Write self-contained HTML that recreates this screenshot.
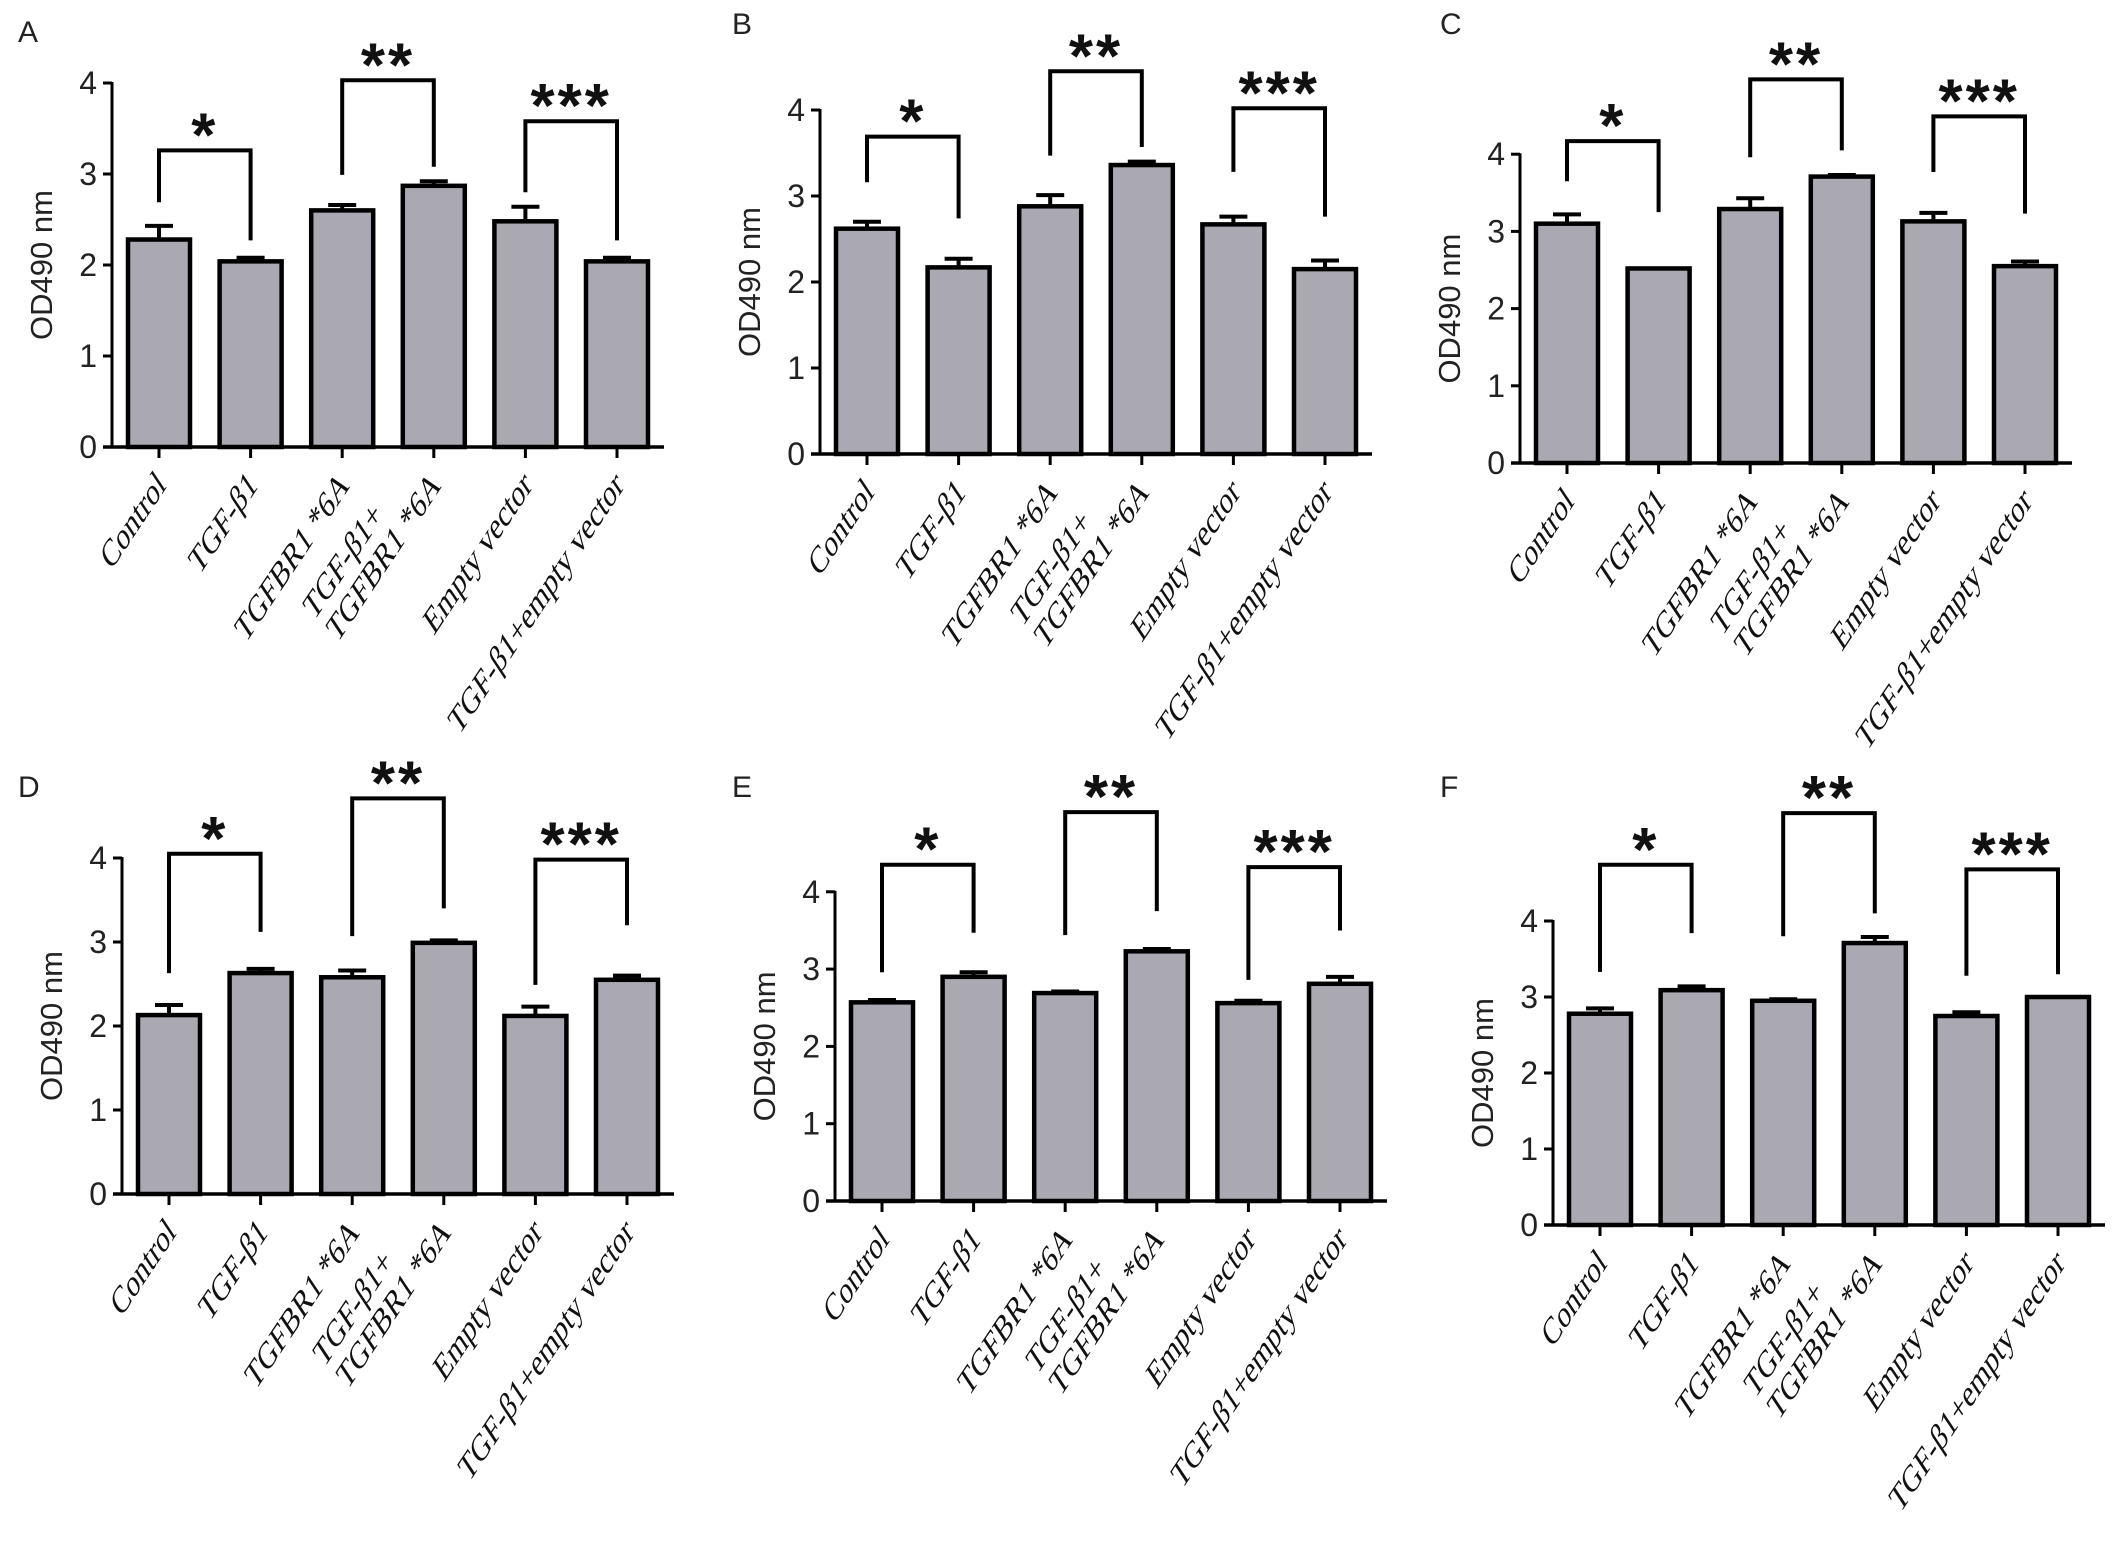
<!DOCTYPE html>
<html><head><meta charset="utf-8">
<style>
html,body{margin:0;padding:0;background:#fff;}
svg{display:block;}
</style></head>
<body>
<svg id="fig" width="2126" height="1556" viewBox="0 0 2126 1556" xmlns="http://www.w3.org/2000/svg"></svg>
<script>
// ---- data ----
const categories = ["Control","TGF-β1","TGFBR1 *6A","TGF-β1+|TGFBR1 *6A","Empty vector","TGF-β1+empty vector"];
const yTicks = [0,1,2,3,4];
const panelLetters = ["A","B","C","D","E","F"];
const starLabels = ["*","**","***"];

const valuesA = [2.28, 2.04, 2.60, 2.87, 2.48, 2.04];
const errA    = [2.43, 2.08, 2.66, 2.92, 2.64, 2.08];
const valuesB = [2.62, 2.17, 2.88, 3.36, 2.67, 2.15];
const errB    = [2.70, 2.27, 3.01, 3.40, 2.76, 2.25];
const valuesC = [3.10, 2.52, 3.29, 3.71, 3.13, 2.55];
const errC    = [3.22, 2.52, 3.43, 3.73, 3.24, 2.61];
const valuesD = [2.13, 2.63, 2.58, 2.99, 2.12, 2.55];
const errD    = [2.25, 2.68, 2.66, 3.02, 2.23, 2.60];
const valuesE = [2.57, 2.90, 2.69, 3.23, 2.56, 2.81];
const errE    = [2.60, 2.96, 2.71, 3.26, 2.59, 2.90];
const valuesF = [2.78, 3.09, 2.95, 3.71, 2.75, 3.00];
const errF    = [2.85, 3.14, 2.97, 3.79, 2.80, 3.00];

// significance brackets: top level, left leg end, right leg end (in OD units)
const bracketTopA = [3.26, 4.03, 3.58];
const bracketLegA = [[2.69, 2.27], [2.99, 3.08], [2.80, 2.27]];
const bracketTopB = [3.69, 4.45, 4.02];
const bracketLegB = [[3.16, 2.74], [3.47, 3.57], [3.28, 2.76]];
const bracketTopC = [4.17, 4.97, 4.49];
const bracketLegC = [[3.65, 3.25], [3.96, 4.05], [3.77, 3.23]];
const bracketTopD = [4.05, 4.71, 3.98];
const bracketLegD = [[2.63, 3.12], [3.07, 3.40], [2.49, 3.20]];
const bracketTopE = [4.35, 5.03, 4.32];
const bracketLegE = [[2.96, 3.47], [3.44, 3.75], [2.86, 3.50]];
const bracketTopF = [4.74, 5.42, 4.68];
const bracketLegF = [[3.33, 3.84], [3.80, 4.10], [3.28, 3.30]];

// ---- layout (geometry only) ----
const panels = [
  {ax:112,  y0:447,  unit:91.0, lx:18,   ly:42,  vals:valuesA, errs:errA, bt:bracketTopA, bl:bracketLegA},
  {ax:820,  y0:454,  unit:86.0, lx:732,  ly:34,  vals:valuesB, errs:errB, bt:bracketTopB, bl:bracketLegB},
  {ax:1520, y0:463,  unit:77.2, lx:1440, ly:34,  vals:valuesC, errs:errC, bt:bracketTopC, bl:bracketLegC},
  {ax:122,  y0:1194, unit:84.0, lx:18,   ly:797, vals:valuesD, errs:errD, bt:bracketTopD, bl:bracketLegD},
  {ax:835,  y0:1201, unit:77.3, lx:732,  ly:797, vals:valuesE, errs:errE, bt:bracketTopE, bl:bracketLegE},
  {ax:1553, y0:1225, unit:76.0, lx:1440, ly:797, vals:valuesF, errs:errF, bt:bracketTopF, bl:bracketLegF}
];
const STEP = 91.6, FIRST = 47, BARW = 62;
const NS = "http://www.w3.org/2000/svg";
const svg = document.getElementById('fig');

function mk(tag, attrs, parent){
  const e = document.createElementNS(NS, tag);
  for (const k in attrs) e.setAttribute(k, attrs[k]);
  (parent||svg).appendChild(e);
  return e;
}

panels.forEach((p, pi) => {
  const g = mk('g', {});
  
  
  const yS = v => p.y0 - v * p.unit;
  const xS = i => p.ax + FIRST + i * STEP;
  const xEnd = xS(categories.length - 1) + 47;

  const letter = mk('text', {x:p.lx, y:p.ly, 'font-family':'Liberation Sans, sans-serif', 'font-size':30, fill:'#222'}, g);
  letter.textContent = panelLetters[pi];
  
  

  categories.forEach((c, i) => {
    const x = xS(i), top = yS(p.vals[i]), et = yS(p.errs[i]);
    const eb = mk('path', {d:`M${x},${top} V${et} M${x-14},${et} H${x+14}`, stroke:'#000', 'stroke-width':4, fill:'none'}, g);
    
    
    const r = mk('rect', {x:x - BARW/2, y:top, width:BARW, height:p.y0 - top, fill:'#aaa9b1', stroke:'#000', 'stroke-width':4.5}, g);
    
    
  });

  const yax = mk('line', {x1:p.ax, y1:yS(4)-1, x2:p.ax, y2:p.y0, stroke:'#000', 'stroke-width':3}, g);
  
  
  const xax = mk('line', {x1:p.ax-9, y1:p.y0, x2:xEnd, y2:p.y0, stroke:'#000', 'stroke-width':3.5}, g);
  
  

  yTicks.forEach(t => {
    const y = yS(t);
    mk('line', {x1:p.ax-9, y1:y, x2:p.ax, y2:y, stroke:'#000', 'stroke-width':3}, g);
    const tl = mk('text', {x:p.ax-15, y:y+11, 'text-anchor':'end', 'font-family':'Liberation Sans, sans-serif', 'font-size':32, fill:'#222'}, g);
    tl.textContent = t;
    
    
  });

  const yt = mk('text', {x:0, y:0, transform:`translate(${p.ax-60},${(p.y0+yS(4))/2}) rotate(-90)`, 'text-anchor':'middle', 'font-family':'Liberation Sans, sans-serif', 'font-size':31, fill:'#222'}, g);
  yt.textContent = 'OD490 nm';
  
  

  categories.forEach((c, i) => {
    const x = xS(i);
    mk('line', {x1:x, y1:p.y0, x2:x, y2:p.y0+11, stroke:'#000', 'stroke-width':3}, g);
    const t = mk('text', {transform:`translate(${x+8},${p.y0+40}) scale(1,1.5) rotate(-45)`, 'font-family':'Liberation Serif, serif', 'font-size':26, fill:'#111'}, g);
    
    
    const parts = c.split('|');
    if (parts.length === 1) {
      t.setAttribute('text-anchor', 'end');
      t.textContent = c;
    } else {
      const s2 = mk('tspan', {x:0, y:0, 'text-anchor':'end'}, t);
      s2.textContent = parts[1];
      const w = s2.getComputedTextLength();
      const s1 = mk('tspan', {x:-w - 6, y:-27, 'text-anchor':'start'}, t);
      s1.textContent = parts[0];
    }
  });

  const pairs = [[0,1],[2,3],[4,5]];
  pairs.forEach((pr, k) => {
    const xl = xS(pr[0]), xr = xS(pr[1]), yt2 = yS(p.bt[k]);
    const br = mk('path', {d:`M${xl},${yS(p.bl[k][0])} V${yt2} H${xr} V${yS(p.bl[k][1])}`, stroke:'#000', 'stroke-width':4, fill:'none'}, g);
    
    
    const st = mk('text', {x:(xl+xr)/2, y:yt2+6, 'text-anchor':'middle', 'font-family':'Liberation Sans, sans-serif', 'font-size':62, 'font-weight':'bold', 'letter-spacing':3, fill:'#111'}, g);
    st.textContent = starLabels[k];
    
    
  });
});
</script>
</body></html>
